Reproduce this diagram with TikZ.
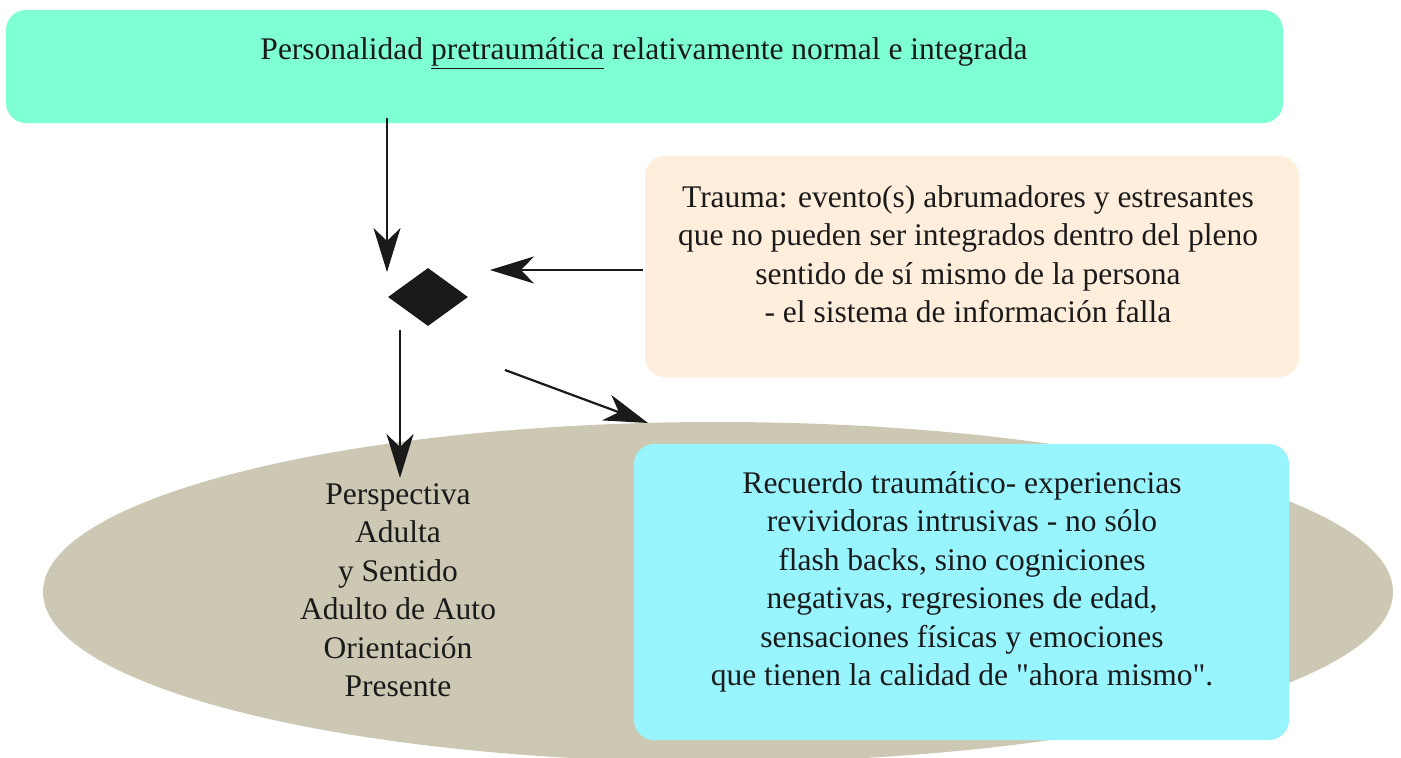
\documentclass[tikz,border=0pt]{standalone}
\usepackage{fontspec}
\setmainfont{Liberation Serif}[Ligatures=TeXOff]
\usetikzlibrary{arrows.meta,shapes.geometric}
\definecolor{txt}{HTML}{1A1A1A}
\definecolor{aqua}{HTML}{7FFFD4}
\definecolor{peach}{HTML}{FFEEDC}
\definecolor{khaki}{HTML}{CCC8B3}
\definecolor{cyanbox}{HTML}{98F5FF}
\newcommand{\myul}[1]{\underline{#1}}
\tikzset{
  box/.style={rectangle, rounded corners=20pt, draw=none, inner sep=0pt},
  lbl/.style={text=txt, align=center, font=\fontsize{31.5}{38.5}\selectfont, inner sep=0pt},
  arr/.style={draw=txt, line width=2.2pt, -{Stealth[length=44pt,width=27pt,inset=13pt]}},
}
\begin{document}
\begin{tikzpicture}[x=1pt,y=-1pt]
\useasboundingbox (0,0) rectangle (1401,758);
\fill[white] (0,0) rectangle (1401,758);
% ellipse
\node[ellipse, fill=khaki, minimum width=1350pt, minimum height=340pt, inner sep=0pt] (ell) at (718,592) {};
% boxes
\node[box, fill=aqua, minimum width=1277pt, minimum height=113pt] (top) at (644.5,66.5) {};
\node[box, fill=peach, minimum width=654pt, minimum height=221pt] (trauma) at (972,266.5) {};
\node[box, fill=cyanbox, minimum width=655pt, minimum height=296pt] (rec) at (961.5,592) {};
% diamond
\node[diamond, fill=txt, minimum width=80pt, minimum height=58pt, inner sep=0pt, aspect=1.38] (dia) at (428,297) {};
% texts
\node[lbl] (toptxt) at (644,53) {Personalidad \myul{pretraumática} relativamente normal e integrada};
\node[lbl] (trtxt) at (968,254) {Trauma: evento(s) abrumadores y estresantes\\que no pueden ser integrados dentro del pleno\\sentido de sí mismo de la persona\\- el sistema de información falla};
\node[lbl] (adtxt) at (398,590) {Perspectiva\\Adulta\\y Sentido\\Adulto de Auto\\Orientación\\Presente};
\node[lbl] (rectxt) at (962,582) {Recuerdo traumático- experiencias\\revividoras intrusivas - no sólo\\flash backs, sino cogniciones\\negativas, regresiones de edad,\\sensaciones físicas y emociones\\que tienen la calidad de "ahora mismo".};
% connector endpoints
\coordinate (a1s) at (387,118);
\coordinate (a1e) at (387,272);
\coordinate (a2s) at (643,270);
\coordinate (a2e) at (490,270);
\coordinate (a3s) at (400,330);
\coordinate (a3e) at (400,478);
\coordinate (a4s) at (505,370);
\coordinate (a4e) at (648,423);
\draw[arr] (a1s) -- (a1e);
\draw[arr] (a2s) -- (a2e);
\draw[arr] (a3s) -- (a3e);
\draw[arr] (a4s) -- (a4e);
\end{tikzpicture}
\end{document}
